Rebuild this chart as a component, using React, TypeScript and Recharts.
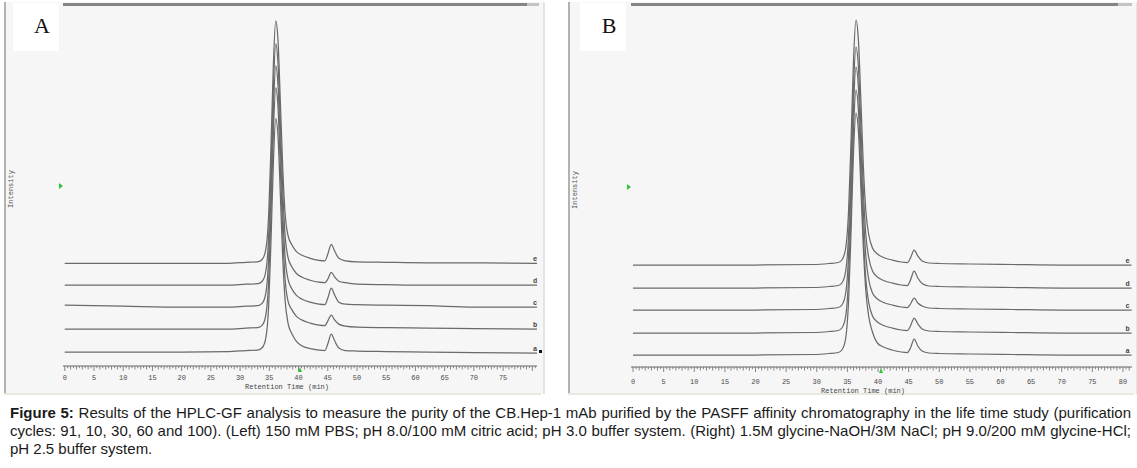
import React from "react";
import { LineChart, Line, XAxis, YAxis, LabelList } from "recharts";

// ---- data (retention time in min, stacked intensity) ----
const traceKeys = ["a", "b", "c", "d", "e"];

// Panel A (150 mM PBS / citric acid)
const timeLeft = [0, 10, 20, 28, 31, 33, 33.8, 34.4, 34.9, 35.3, 35.7, 36.1, 36.5, 36.9, 37.3, 37.7, 38.2, 38.8, 39.6, 40.6, 42, 43.5, 44.5, 45, 45.6, 46.2, 46.9, 48, 50, 55, 62, 70, 80.8];
const eLeft = [103, 103, 103, 103, 104, 104.5, 107, 117, 153, 223, 303, 346, 325, 263, 198, 153, 131, 122, 115, 111, 108, 106, 105.5, 112, 122, 115, 108, 105.5, 104.5, 104, 103.5, 103.5, 103];
const dLeft = [81, 81, 81, 81, 82, 82.5, 85, 95, 131, 200, 280, 323, 302, 241, 176, 131, 109, 100, 93, 89, 86, 84, 83.5, 87, 94, 89, 85, 83.5, 82, 81.5, 81, 81, 81];
const cLeft = [61, 60, 59, 59, 60, 60.5, 63, 73, 109, 178, 258, 301, 280, 219, 154, 109, 87, 78, 71, 67, 64, 62, 61.5, 68, 78, 71, 64, 62, 61.5, 61, 60.5, 59, 59];
const bLeft = [37, 37, 37, 37, 38, 38.5, 41, 51, 87, 156, 236, 279, 258, 197, 132, 87, 65, 57, 50, 46, 43, 41, 40.5, 45, 51, 46, 42, 40, 39, 38.5, 38, 37.5, 37];
const aLeft = [14, 14, 14, 14.5, 15.5, 16, 18.5, 28, 62, 128, 205, 248, 229, 170, 108, 66, 43, 33, 25, 20, 17.5, 16, 15.5, 22, 32, 25, 18, 15.5, 15, 14.5, 14, 13.5, 13];
const labelsLeft = [0, 5, 10, 15, 20, 25, 30, 35, 40, 45, 50, 55, 60, 65, 70, 75];

// Panel B (glycine-NaOH / glycine-HCl)
const timeRight = [0, 10, 20, 29.5, 32, 33.5, 34.1, 34.7, 35.2, 35.6, 36.0, 36.4, 36.8, 37.2, 37.6, 38.0, 38.5, 39.1, 39.9, 40.9, 42.3, 43.8, 44.8, 45.3, 45.9, 46.5, 47.2, 48.3, 50, 55, 62, 70, 81.4];
const eRight = [102, 102, 102, 102.5, 103.5, 104.5, 107, 118, 157, 227, 307, 347, 327, 267, 202, 157, 132, 119, 113, 109.5, 107, 105, 104.5, 109, 117, 111, 106, 104, 103.5, 103, 102.5, 102, 102];
const dRight = [79, 79, 79, 79.5, 80.5, 81.5, 84, 95, 133, 202, 281, 320, 300, 241, 177, 133, 109, 96, 90, 86.5, 84, 82, 81.5, 87, 96, 89, 83.5, 81, 80.5, 80, 79.5, 79, 79];
const cRight = [57, 57, 57, 57.5, 58.5, 59.5, 62, 73, 112, 181, 261, 300, 280, 220, 156, 112, 87, 74, 68, 64.5, 62, 60, 59.5, 63, 69, 64, 61, 59, 58.5, 58, 57.5, 57, 57];
const bRight = [34, 34, 34, 34.5, 35.5, 36.5, 39, 50, 89, 158, 238, 277, 257, 197, 133, 89, 64, 51, 45, 41.5, 39, 37, 36.5, 41, 49, 43, 38, 36, 35.5, 35, 34.5, 34, 34];
const aRight = [12, 12, 12, 12.5, 13.5, 14.5, 17, 28, 67, 136, 215, 254, 236, 180, 120, 77, 50, 35, 24, 20, 17, 15, 14.5, 19, 28, 21, 16, 14, 13.5, 13, 12.5, 12, 12];
const labelsRight = [0, 5, 10, 15, 20, 25, 30, 35, 40, 45, 50, 55, 60, 65, 70, 75, 80];

const buildRows = (time: number[], series: number[][]) =>
  time.map((t, i) => {
    const row: any = { t };
    traceKeys.forEach((k, j) => (row[k] = series[j][i]));
    return row;
  });

const rowsLeft = buildRows(timeLeft, [aLeft, bLeft, cLeft, dLeft, eLeft]);
const rowsRight = buildRows(timeRight, [aRight, bRight, cRight, dRight, eRight]);

// half-minute tick comb
const halfMinuteTicks = (max: number) => {
  const out: number[] = [];
  for (let i = 0; i * 0.5 <= max; i++) out.push(i * 0.5);
  return out;
};

const mono = "'Liberation Mono', 'DejaVu Sans Mono', monospace";
const traceColor = "#6a6a6a";

const AxisTick = ({ x, y, payload, labels, labelDy }: any) => {
  const v = payload.value;
  const major = Math.abs(v % 5) < 1e-6;
  const whole = Math.abs(v % 1) < 1e-6;
  const len = major ? 5 : whole ? 3.5 : 2.2;
  return (
    <g>
      <line x1={x} x2={x} y1={y} y2={y + len} stroke="#6a6a6a" strokeWidth={0.8} />
      {major && labels.includes(v) && (
        <text x={x} y={y + labelDy} textAnchor="middle" fontFamily={mono} fontSize={7} fill="#4a4a4a">
          {v}
        </text>
      )}
    </g>
  );
};

interface PanelProps {
  rows: any[];
  left: number;
  width: number;
  marginLeft: number;
  marginRight: number;
  axisHeight: number;
  domain: [number, number];
  labels: number[];
  labelDy: number;
  letterDx: number;
}

function Chromatogram({ rows, left, width, marginLeft, marginRight, axisHeight, domain, labels, labelDy, letterDx }: PanelProps) {
  const last = rows.length - 1;
  return (
    <div style={{ position: "absolute", left, top: 0 }}>
      <LineChart width={width} height={395} data={rows} margin={{ top: 7, right: marginRight, left: marginLeft, bottom: 0 }}>
        <XAxis
          dataKey="t"
          type="number"
          domain={domain}
          allowDataOverflow
          ticks={halfMinuteTicks(domain[1])}
          interval={0}
          height={axisHeight}
          tickSize={0}
          tickMargin={0}
          tickLine={false}
          axisLine={{ stroke: "#666", strokeWidth: 1 }}
          tick={(p: any) => <AxisTick {...p} labels={labels} labelDy={labelDy} />}
        />
        <YAxis type="number" domain={[0, 360]} width={0} tick={false} tickLine={false} axisLine={{ stroke: "#a8a8a8" }} />
        {traceKeys.map((k) => (
          <Line
            key={k}
            dataKey={k}
            type="monotone"
            stroke={traceColor}
            strokeWidth={1.25}
            dot={false}
            isAnimationActive={false}
          >
            <LabelList
              dataKey={k}
              content={(p: any) =>
                p.index === last ? (
                  <text x={p.x + letterDx} y={p.y - 2.5} textAnchor="middle" fontFamily={mono} fontSize={7} fontWeight="bold" fill="#444">
                    {k}
                  </text>
                ) : null
              }
            />
          </Line>
        ))}
      </LineChart>
    </div>
  );
}

const abs = (s: React.CSSProperties): React.CSSProperties => ({ position: "absolute", ...s });

function Frame({ x0, x1, plotLeft, barEnd, letter, letterBox, yMark, xMark, axisY, titleX, titleY, intensityX }: any) {
  return (
    <>
      <div style={abs({ left: x0, top: 2, width: x1 - x0, height: 392, background: "#f6f6f6", borderLeft: "2px solid #b2b2b2", borderRight: "2px solid #e4e4e4" })} />
      <div style={abs({ left: x0, top: 393, width: x1 - x0, height: 2, background: "#e6ebe0" })} />
      <div style={abs({ left: plotLeft, top: 3, width: barEnd - plotLeft, height: 3, background: "#858585" })} />
      <div style={abs({ left: barEnd, top: 3, width: x1 - barEnd - 2, height: 3, background: "#c4c4c4" })} />
      <div style={abs({ left: letterBox, top: 3, width: 46, height: 48, background: "#ffffff" })} />
      <div style={abs({ left: letterBox, top: 12, width: 58, textAlign: "center", fontFamily: "'Liberation Serif', serif", fontSize: 22, lineHeight: "28px", color: "#111" })}>
        {letter}
      </div>
      <div style={abs({ left: intensityX - 30, top: yMark + 2, width: 60, textAlign: "center", transform: "rotate(-90deg)", fontFamily: mono, fontSize: 7, lineHeight: "8px", color: "#555" })}>
        Intensity
      </div>
      <div style={abs({ left: plotLeft - 4, top: yMark, width: 0, height: 0, borderTop: "3px solid transparent", borderBottom: "3px solid transparent", borderLeft: "4px solid #33c633" })} />
      <div style={abs({ left: xMark - 2, top: axisY + 1, width: 0, height: 0, borderLeft: "2.5px solid transparent", borderRight: "2.5px solid transparent", borderBottom: "5px solid #33c633" })} />
      <div style={abs({ left: titleX - 60, top: titleY - 5, width: 120, textAlign: "center", fontFamily: mono, fontSize: 7, lineHeight: "10px", color: "#444", whiteSpace: "nowrap" })}>
        Retention Time (min)
      </div>
    </>
  );
}

const captionLine: React.CSSProperties = {
  whiteSpace: "nowrap",
  height: 18,
  lineHeight: "18px",
};

export default function App() {
  return (
    <div style={abs({ left: 0, top: 0, width: 1137, height: 468, background: "#fff", overflow: "hidden" })}>
      <Frame x0={4} x1={541} plotLeft={63} barEnd={527} letter="A" letterBox={13} yMark={183} xMark={300} axisY={366} titleX={287} titleY={387} intensityX={11} />
      <Frame x0={568} x1={1134} plotLeft={631} barEnd={1118} letter="B" letterBox={580} yMark={184} xMark={881} axisY={367} titleX={863} titleY={391} intensityX={575} />

      <Chromatogram rows={rowsLeft} left={0} width={545} marginLeft={63} marginRight={8} axisHeight={29} domain={[-0.3, 80.8]} labels={labelsLeft} labelDy={14} letterDx={-2} />
      <Chromatogram rows={rowsRight} left={570} width={567} marginLeft={61} marginRight={5} axisHeight={28} domain={[-0.33, 81.47]} labels={labelsRight} labelDy={17} letterDx={-4} />

      <div style={abs({ left: 539, top: 350, width: 3, height: 3, background: "#111" })} />

      <div style={abs({ left: 10, top: 404, width: 1121, fontFamily: "'Liberation Sans', Arial, sans-serif", fontSize: 15, color: "#1a1a1a" })}>
        <div style={{ ...captionLine, textAlign: "justify", textAlignLast: "justify" }}>
          <b>Figure 5:</b> Results of the HPLC-GF analysis to measure the purity of the CB.Hep-1 mAb purified by the PASFF affinity chromatography in the life time study (purification
        </div>
        <div style={{ ...captionLine, textAlign: "justify", textAlignLast: "justify" }}>
          cycles: 91, 10, 30, 60 and 100). (Left) 150 mM PBS; pH 8.0/100 mM citric acid; pH 3.0 buffer system. (Right) 1.5M glycine-NaOH/3M NaCl; pH 9.0/200 mM glycine-HCl;
        </div>
        <div style={captionLine}>pH 2.5 buffer system.</div>
      </div>
    </div>
  );
}
